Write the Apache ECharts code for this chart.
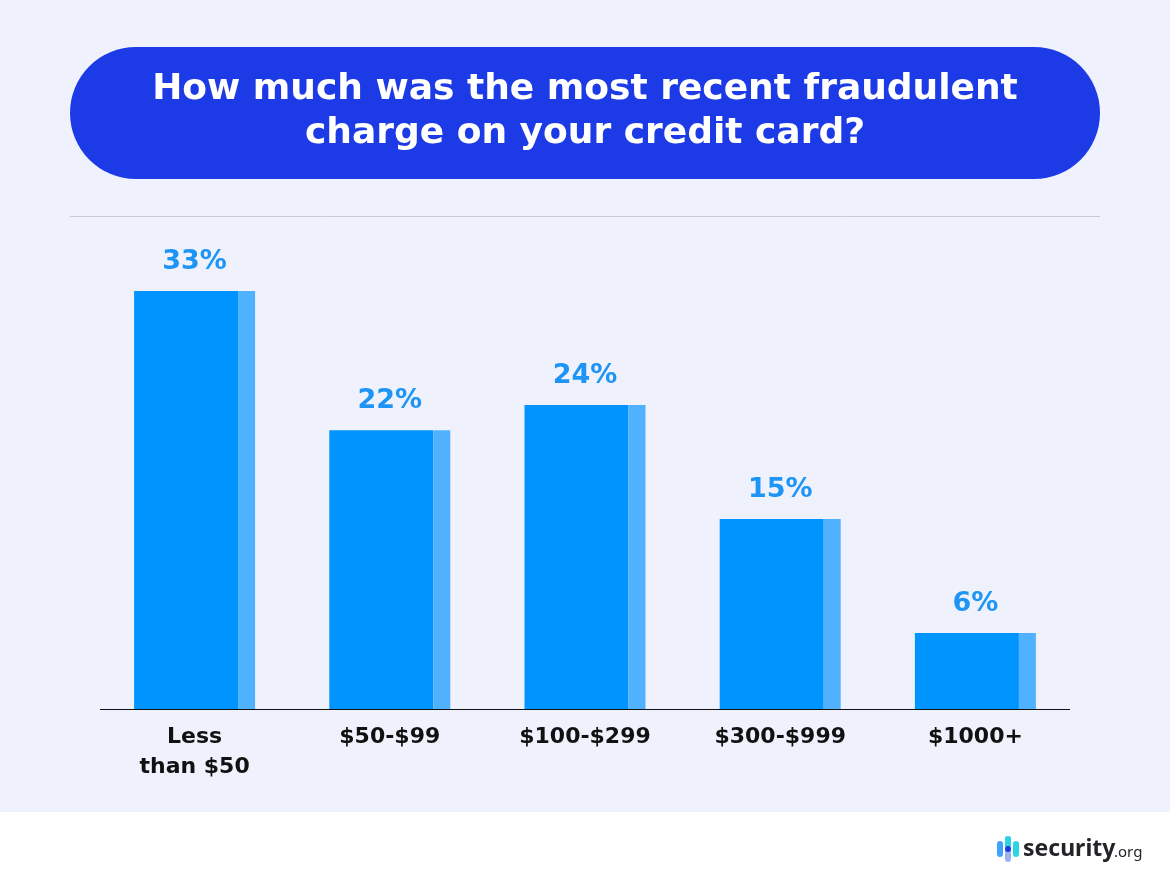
<!DOCTYPE html>
<html>
<head>
<meta charset="utf-8">
<script src="https://cdn.jsdelivr.net/npm/echarts@6/dist/echarts.min.js"></script>
<style>
html,body{margin:0;padding:0;background:#EFF2FD;}
#chart{width:1170px;height:886px;}
</style>
</head>
<body>
<div id="chart"></div>
<script>
const categories = ['Less\nthan $50', '$50-$99', '$100-$299', '$300-$999', '$1000+'];
const values = [33, 22, 24, 15, 6];
const titleText = 'How much was the most recent fraudulent\ncharge on your credit card?';

const chart = echarts.init(document.getElementById('chart'));
chart.setOption({
  backgroundColor: '#EFF2FD',
  animation: false,
  title: {
    text: titleText,
    left: 'center',
    top: 63,
    textStyle: {
      color: '#ffffff',
      fontFamily: 'DejaVu Sans',
      fontWeight: 'bold',
      fontSize: 36,
      lineHeight: 44
    }
  },
  graphic: [
    { type: 'rect', z: -1, shape: { x: 70, y: 47, width: 1030, height: 132, r: 66 }, style: { fill: '#1C3AE6' } },
    { type: 'line', shape: { x1: 70, y1: 216.5, x2: 1100, y2: 216.5 }, style: { stroke: '#C9CAD4', lineWidth: 1 } },
    { type: 'line', z: 10, shape: { x1: 100, y1: 709.5, x2: 1070, y2: 709.5 }, style: { stroke: '#111111', lineWidth: 1 } },
    { type: 'rect', shape: { x: 0, y: 812, width: 1170, height: 74 }, style: { fill: '#ffffff' } },
    { type: 'rect', shape: { x: 997, y: 841, width: 6, height: 16, r: 3 }, style: { fill: '#3FA2FF' } },
    { type: 'rect', shape: { x: 1005, y: 836, width: 6, height: 26, r: 3 }, style: { fill: '#9BB0F5' } },
    { type: 'rect', shape: { x: 1005, y: 836, width: 6, height: 12, r: 3 }, style: { fill: '#2DD4E4' } },
    { type: 'circle', shape: { cx: 1008, cy: 849, r: 3 }, style: { fill: '#1C3AE6' } },
    { type: 'rect', shape: { x: 1013, y: 841, width: 6, height: 16, r: 3 }, style: { fill: '#2DD4E4' } },
    { type: 'text', x: 1023, y: 849, style: { text: 'security', fill: '#222428', font: 'bold 23px "Noto Sans"', verticalAlign: 'middle' } },
    { type: 'text', x: 1114, y: 853, style: { text: '.org', fill: '#222428', font: '15px "Noto Sans"', verticalAlign: 'middle' } }
  ],
  grid: { left: 97, right: 97, top: 202.33, bottom: 177, containLabel: false },
  xAxis: {
    type: 'category',
    data: categories,
    axisLine: { show: false },
    axisTick: { show: false },
    axisLabel: {
      color: '#111111',
      fontFamily: 'DejaVu Sans',
      fontWeight: 'bold',
      fontSize: 22,
      lineHeight: 30,
      margin: 13
    }
  },
  yAxis: {
    type: 'value',
    min: 0, max: 40,
    show: false,
    splitLine: { show: false }
  },
  series: [
    {
      type: 'bar',
      data: values,
      barWidth: 104,
      barGap: '0%',
      itemStyle: { color: '#0094FF' },
      label: {
        show: true,
        position: 'top',
        offset: [8.5, 0],
        distance: 16,
        formatter: '{c}%',
        color: '#1E95F5',
        fontFamily: 'DejaVu Sans',
        fontWeight: 'bold',
        fontSize: 27
      }
    },
    {
      type: 'bar',
      data: values,
      barWidth: 17,
      barGap: '0%',
      itemStyle: { color: '#50B2FF' }
    }
  ]
});
</script>
</body>
</html>
